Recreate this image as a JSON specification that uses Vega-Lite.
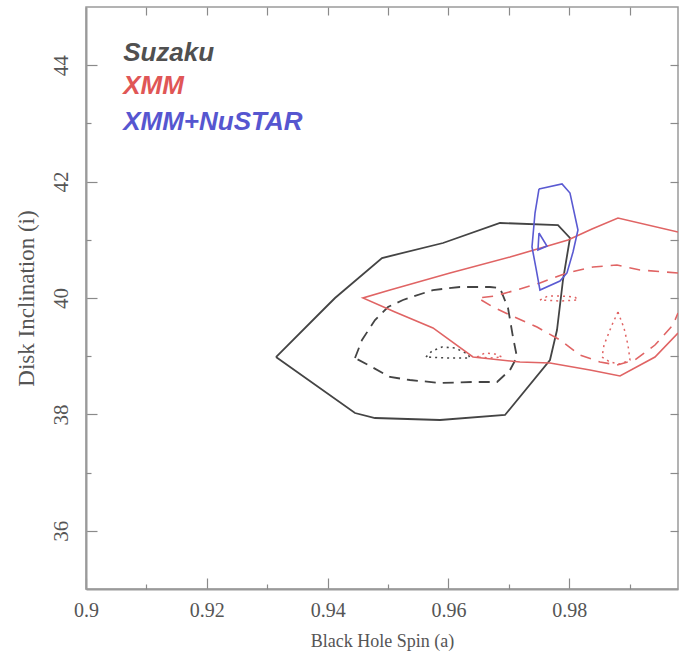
{
  "$schema": "https://vega.github.io/schema/vega-lite/v6.json",
  "width": 592,
  "height": 582,
  "autosize": "none",
  "padding": {"left": 86, "top": 7, "right": 5, "bottom": 66},
  "background": "white",
  "config": {
    "view": {"stroke": "#9a9a9a", "strokeWidth": 1.5},
    "axis": {
      "labelFont": "Liberation Serif",
      "titleFont": "Liberation Serif",
      "labelColor": "#555555",
      "titleColor": "#555555",
      "titleFontWeight": "normal",
      "tickColor": "#8a8a8a",
      "tickWidth": 1.2,
      "domain": false,
      "grid": false,
      "labelFlush": false,
      "labelOverlap": false
    }
  },
  "datasets": {
    "suzaku": [
      {"lvl": 1, "i": 0, "a": 0.93145, "inc": 38.986},
      {"lvl": 1, "i": 1, "a": 0.93923, "inc": 39.794},
      {"lvl": 1, "i": 2, "a": 0.94122, "inc": 40.0},
      {"lvl": 1, "i": 3, "a": 0.949, "inc": 40.687},
      {"lvl": 1, "i": 4, "a": 0.9591, "inc": 40.945},
      {"lvl": 1, "i": 5, "a": 0.96853, "inc": 41.289},
      {"lvl": 1, "i": 6, "a": 0.97813, "inc": 41.254},
      {"lvl": 1, "i": 7, "a": 0.98012, "inc": 41.031},
      {"lvl": 1, "i": 8, "a": 0.97896, "inc": 40.309},
      {"lvl": 1, "i": 9, "a": 0.97797, "inc": 39.45},
      {"lvl": 1, "i": 10, "a": 0.97681, "inc": 38.935},
      {"lvl": 1, "i": 11, "a": 0.96936, "inc": 37.99},
      {"lvl": 1, "i": 12, "a": 0.9586, "inc": 37.904},
      {"lvl": 1, "i": 13, "a": 0.94784, "inc": 37.938},
      {"lvl": 1, "i": 14, "a": 0.94453, "inc": 38.024},
      {"lvl": 1, "i": 15, "a": 0.93145, "inc": 38.986},
      {"lvl": 2, "i": 0, "a": 0.94453, "inc": 38.969},
      {"lvl": 2, "i": 1, "a": 0.94569, "inc": 39.278},
      {"lvl": 2, "i": 2, "a": 0.94784, "inc": 39.622},
      {"lvl": 2, "i": 3, "a": 0.94999, "inc": 39.845},
      {"lvl": 2, "i": 4, "a": 0.95247, "inc": 39.966},
      {"lvl": 2, "i": 5, "a": 0.95744, "inc": 40.137},
      {"lvl": 2, "i": 6, "a": 0.96191, "inc": 40.189},
      {"lvl": 2, "i": 7, "a": 0.96688, "inc": 40.189},
      {"lvl": 2, "i": 8, "a": 0.96853, "inc": 40.172},
      {"lvl": 2, "i": 9, "a": 0.96986, "inc": 39.828},
      {"lvl": 2, "i": 10, "a": 0.97068, "inc": 39.33},
      {"lvl": 2, "i": 11, "a": 0.97134, "inc": 38.986},
      {"lvl": 2, "i": 12, "a": 0.97019, "inc": 38.763},
      {"lvl": 2, "i": 13, "a": 0.96804, "inc": 38.557},
      {"lvl": 2, "i": 14, "a": 0.96406, "inc": 38.557},
      {"lvl": 2, "i": 15, "a": 0.9586, "inc": 38.54},
      {"lvl": 2, "i": 16, "a": 0.95363, "inc": 38.591},
      {"lvl": 2, "i": 17, "a": 0.95032, "inc": 38.643},
      {"lvl": 2, "i": 18, "a": 0.94734, "inc": 38.814},
      {"lvl": 2, "i": 19, "a": 0.94453, "inc": 38.969},
      {"lvl": 3, "i": 0, "a": 0.95628, "inc": 38.986},
      {"lvl": 3, "i": 1, "a": 0.95728, "inc": 39.089},
      {"lvl": 3, "i": 2, "a": 0.95893, "inc": 39.158},
      {"lvl": 3, "i": 3, "a": 0.96108, "inc": 39.141},
      {"lvl": 3, "i": 4, "a": 0.96323, "inc": 39.038},
      {"lvl": 3, "i": 5, "a": 0.96357, "inc": 38.969},
      {"lvl": 3, "i": 6, "a": 0.95992, "inc": 38.969},
      {"lvl": 3, "i": 7, "a": 0.95628, "inc": 38.986}
    ],
    "xmm": [
      {"lvl": 1, "c": "1", "i": 0, "a": 0.998, "inc": 41.134},
      {"lvl": 1, "c": "1", "i": 1, "a": 0.98806, "inc": 41.375},
      {"lvl": 1, "c": "1", "i": 2, "a": 0.98376, "inc": 41.186},
      {"lvl": 1, "c": "1", "i": 3, "a": 0.97979, "inc": 40.997},
      {"lvl": 1, "c": "1", "i": 4, "a": 0.97019, "inc": 40.704},
      {"lvl": 1, "c": "1", "i": 5, "a": 0.96026, "inc": 40.43},
      {"lvl": 1, "c": "1", "i": 6, "a": 0.95032, "inc": 40.137},
      {"lvl": 1, "c": "1", "i": 7, "a": 0.94585, "inc": 40.0},
      {"lvl": 1, "c": "1", "i": 8, "a": 0.95115, "inc": 39.759},
      {"lvl": 1, "c": "1", "i": 9, "a": 0.95744, "inc": 39.485},
      {"lvl": 1, "c": "1", "i": 10, "a": 0.96406, "inc": 38.986},
      {"lvl": 1, "c": "1", "i": 11, "a": 0.97184, "inc": 38.9},
      {"lvl": 1, "c": "1", "i": 12, "a": 0.97681, "inc": 38.883},
      {"lvl": 1, "c": "1", "i": 13, "a": 0.98343, "inc": 38.763},
      {"lvl": 1, "c": "1", "i": 14, "a": 0.9884, "inc": 38.66},
      {"lvl": 1, "c": "1", "i": 15, "a": 0.99419, "inc": 38.986},
      {"lvl": 1, "c": "1", "i": 16, "a": 0.998, "inc": 39.399},
      {"lvl": 2, "c": "2", "i": 0, "a": 0.998, "inc": 40.43},
      {"lvl": 2, "c": "2", "i": 1, "a": 0.99171, "inc": 40.481},
      {"lvl": 2, "c": "2", "i": 2, "a": 0.9879, "inc": 40.567},
      {"lvl": 2, "c": "2", "i": 3, "a": 0.98393, "inc": 40.533},
      {"lvl": 2, "c": "2", "i": 4, "a": 0.97962, "inc": 40.43},
      {"lvl": 2, "c": "2", "i": 5, "a": 0.97515, "inc": 40.258},
      {"lvl": 2, "c": "2", "i": 6, "a": 0.97184, "inc": 40.155},
      {"lvl": 2, "c": "2", "i": 7, "a": 0.9677, "inc": 40.034},
      {"lvl": 2, "c": "2", "i": 8, "a": 0.96489, "inc": 40.0},
      {"lvl": 2, "c": "2", "i": 9, "a": 0.96737, "inc": 39.845},
      {"lvl": 2, "c": "2", "i": 10, "a": 0.97019, "inc": 39.708},
      {"lvl": 2, "c": "2", "i": 11, "a": 0.97466, "inc": 39.502},
      {"lvl": 2, "c": "2", "i": 12, "a": 0.97846, "inc": 39.278},
      {"lvl": 2, "c": "2", "i": 13, "a": 0.98177, "inc": 39.021},
      {"lvl": 2, "c": "2", "i": 14, "a": 0.98509, "inc": 38.9},
      {"lvl": 2, "c": "2", "i": 15, "a": 0.9879, "inc": 38.849},
      {"lvl": 2, "c": "2", "i": 16, "a": 0.99088, "inc": 38.935},
      {"lvl": 2, "c": "2", "i": 17, "a": 0.99419, "inc": 39.192},
      {"lvl": 2, "c": "2", "i": 18, "a": 0.99717, "inc": 39.536},
      {"lvl": 2, "c": "2", "i": 19, "a": 0.998, "inc": 39.742},
      {"lvl": 3, "c": "3a", "i": 0, "a": 0.96472, "inc": 38.986},
      {"lvl": 3, "c": "3a", "i": 1, "a": 0.96605, "inc": 39.055},
      {"lvl": 3, "c": "3a", "i": 2, "a": 0.9677, "inc": 39.038},
      {"lvl": 3, "c": "3a", "i": 3, "a": 0.96886, "inc": 38.986},
      {"lvl": 3, "c": "3a", "i": 4, "a": 0.96688, "inc": 38.969},
      {"lvl": 3, "c": "3a", "i": 5, "a": 0.96472, "inc": 38.986},
      {"lvl": 3, "c": "3b", "i": 0, "a": 0.97515, "inc": 39.966},
      {"lvl": 3, "c": "3b", "i": 1, "a": 0.97648, "inc": 40.034},
      {"lvl": 3, "c": "3b", "i": 2, "a": 0.97846, "inc": 40.034},
      {"lvl": 3, "c": "3b", "i": 3, "a": 0.98095, "inc": 40.017},
      {"lvl": 3, "c": "3b", "i": 4, "a": 0.98144, "inc": 39.966},
      {"lvl": 3, "c": "3b", "i": 5, "a": 0.97846, "inc": 39.948},
      {"lvl": 3, "c": "3b", "i": 6, "a": 0.97515, "inc": 39.966},
      {"lvl": 3, "c": "3c", "i": 0, "a": 0.98806, "inc": 39.759},
      {"lvl": 3, "c": "3c", "i": 1, "a": 0.98707, "inc": 39.536},
      {"lvl": 3, "c": "3c", "i": 2, "a": 0.98575, "inc": 39.192},
      {"lvl": 3, "c": "3c", "i": 3, "a": 0.98542, "inc": 38.986},
      {"lvl": 3, "c": "3c", "i": 4, "a": 0.98674, "inc": 38.9},
      {"lvl": 3, "c": "3c", "i": 5, "a": 0.9884, "inc": 38.866},
      {"lvl": 3, "c": "3c", "i": 6, "a": 0.99005, "inc": 38.935},
      {"lvl": 3, "c": "3c", "i": 7, "a": 0.98972, "inc": 39.192},
      {"lvl": 3, "c": "3c", "i": 8, "a": 0.98906, "inc": 39.485},
      {"lvl": 3, "c": "3c", "i": 9, "a": 0.98806, "inc": 39.759}
    ],
    "nustar": [
      {"c": "outer", "i": 0, "a": 0.97499, "inc": 41.873},
      {"c": "outer", "i": 1, "a": 0.9788, "inc": 41.959},
      {"c": "outer", "i": 2, "a": 0.98012, "inc": 41.804},
      {"c": "outer", "i": 3, "a": 0.98144, "inc": 41.168},
      {"c": "outer", "i": 4, "a": 0.98062, "inc": 40.79},
      {"c": "outer", "i": 5, "a": 0.97962, "inc": 40.43},
      {"c": "outer", "i": 6, "a": 0.97846, "inc": 40.292},
      {"c": "outer", "i": 7, "a": 0.97515, "inc": 40.137},
      {"c": "outer", "i": 8, "a": 0.97449, "inc": 40.515},
      {"c": "outer", "i": 9, "a": 0.97383, "inc": 40.876},
      {"c": "outer", "i": 10, "a": 0.97433, "inc": 41.46},
      {"c": "outer", "i": 11, "a": 0.97499, "inc": 41.873},
      {"c": "inner", "i": 0, "a": 0.97499, "inc": 41.117},
      {"c": "inner", "i": 1, "a": 0.97631, "inc": 40.893},
      {"c": "inner", "i": 2, "a": 0.97482, "inc": 40.825},
      {"c": "inner", "i": 3, "a": 0.97499, "inc": 41.117}
    ],
    "labels": [
      {"label": "Suzaku", "a": 0.90615, "inc": 44.072},
      {"label": "XMM", "a": 0.90615, "inc": 43.505},
      {"label": "XMM+NuSTAR", "a": 0.90615, "inc": 42.887}
    ]
  },
  "resolve": {"axis": {"x": "independent", "y": "independent"}},
  "layer": [
    {
      "data": {"name": "suzaku"},
      "transform": [{"filter": "datum.lvl == 1"}],
      "mark": {"type": "line", "color": "#444444", "strokeWidth": 1.8, "clip": true},
      "encoding": {
        "x": {"field": "a", "type": "quantitative", "scale": {"domain": [0.9, 0.998], "nice": false, "zero": false},
          "axis": {"orient": "bottom", "values": [0.9, 0.92, 0.94, 0.96, 0.98], "format": "~g", "tickSize": -11, "labelPadding": 22, "labelFontSize": 20, "title": "Black Hole Spin (a)", "titleFontSize": 18, "titlePadding": 12, "domain": true, "domainColor": "#9a9a9a", "domainWidth": 2}},
        "y": {"field": "inc", "type": "quantitative", "scale": {"domain": [35, 45], "nice": false, "zero": false},
          "axis": {"orient": "left", "values": [36, 38, 40, 42, 44], "tickSize": -11, "labelAngle": -90, "labelAlign": "center", "labelBaseline": "bottom", "labelPadding": 26, "labelFontSize": 21, "title": "Disk Inclination (i)", "titleFontSize": 23, "titlePadding": 12, "domain": true, "domainColor": "#9a9a9a", "domainWidth": 2}},
        "order": {"field": "i", "type": "quantitative"}
      }
    },
    {
      "data": {"name": "suzaku"},
      "transform": [{"filter": "datum.lvl == 2"}],
      "mark": {"type": "line", "color": "#444444", "strokeWidth": 1.8, "strokeDash": [11, 7], "clip": true},
      "encoding": {
        "x": {"field": "a", "type": "quantitative", "scale": {"domain": [0.9, 0.998], "nice": false, "zero": false},
          "axis": {"orient": "bottom", "values": [0.91, 0.93, 0.95, 0.97, 0.99], "tickSize": -5, "labels": false, "title": null}},
        "y": {"field": "inc", "type": "quantitative", "scale": {"domain": [35, 45], "nice": false, "zero": false},
          "axis": {"orient": "left", "values": [37, 39, 41, 43], "tickSize": -5, "labels": false, "title": null}},
        "order": {"field": "i", "type": "quantitative"}
      }
    },
    {
      "data": {"name": "suzaku"},
      "transform": [{"filter": "datum.lvl == 3"}],
      "mark": {"type": "line", "color": "#444444", "strokeWidth": 1.6, "strokeDash": [2, 4], "clip": true},
      "encoding": {
        "x": {"field": "a", "type": "quantitative", "scale": {"domain": [0.9, 0.998], "nice": false, "zero": false},
          "axis": {"orient": "top", "values": [0.91, 0.92, 0.93, 0.94, 0.95, 0.96, 0.97, 0.98, 0.99], "tickSize": -8, "labels": false, "title": null}},
        "y": {"field": "inc", "type": "quantitative", "scale": {"domain": [35, 45], "nice": false, "zero": false},
          "axis": {"orient": "right", "values": [36, 37, 38, 39, 40, 41, 42, 43, 44], "tickSize": -8, "labels": false, "title": null}},
        "order": {"field": "i", "type": "quantitative"}
      }
    },
    {
      "data": {"name": "xmm"},
      "transform": [{"filter": "datum.lvl == 1"}],
      "mark": {"type": "line", "color": "#e06464", "strokeWidth": 1.6, "clip": true},
      "encoding": {
        "x": {"field": "a", "type": "quantitative", "scale": {"domain": [0.9, 0.998], "nice": false, "zero": false}, "axis": null},
        "y": {"field": "inc", "type": "quantitative", "scale": {"domain": [35, 45], "nice": false, "zero": false}, "axis": null},
        "order": {"field": "i", "type": "quantitative"}
      }
    },
    {
      "data": {"name": "xmm"},
      "transform": [{"filter": "datum.lvl == 2"}],
      "mark": {"type": "line", "color": "#e06464", "strokeWidth": 1.6, "strokeDash": [11, 8], "clip": true},
      "encoding": {
        "x": {"field": "a", "type": "quantitative", "scale": {"domain": [0.9, 0.998], "nice": false, "zero": false}, "axis": null},
        "y": {"field": "inc", "type": "quantitative", "scale": {"domain": [35, 45], "nice": false, "zero": false}, "axis": null},
        "order": {"field": "i", "type": "quantitative"}
      }
    },
    {
      "data": {"name": "xmm"},
      "transform": [{"filter": "datum.lvl == 3"}],
      "mark": {"type": "line", "color": "#e06464", "strokeWidth": 1.5, "strokeDash": [2, 4], "clip": true},
      "encoding": {
        "x": {"field": "a", "type": "quantitative", "scale": {"domain": [0.9, 0.998], "nice": false, "zero": false}, "axis": null},
        "y": {"field": "inc", "type": "quantitative", "scale": {"domain": [35, 45], "nice": false, "zero": false}, "axis": null},
        "detail": {"field": "c", "type": "nominal"},
        "order": {"field": "i", "type": "quantitative"}
      }
    },
    {
      "data": {"name": "nustar"},
      "mark": {"type": "line", "color": "#5a5ad2", "strokeWidth": 1.6, "clip": true},
      "encoding": {
        "x": {"field": "a", "type": "quantitative", "scale": {"domain": [0.9, 0.998], "nice": false, "zero": false}, "axis": null},
        "y": {"field": "inc", "type": "quantitative", "scale": {"domain": [35, 45], "nice": false, "zero": false}, "axis": null},
        "detail": {"field": "c", "type": "nominal"},
        "order": {"field": "i", "type": "quantitative"}
      }
    },
    {
      "data": {"name": "labels"},
      "mark": {"type": "text", "align": "left", "baseline": "alphabetic", "font": "Liberation Sans", "fontStyle": "italic", "fontWeight": "bold", "fontSize": 26},
      "encoding": {
        "x": {"field": "a", "type": "quantitative", "scale": {"domain": [0.9, 0.998], "nice": false, "zero": false}, "axis": null},
        "y": {"field": "inc", "type": "quantitative", "scale": {"domain": [35, 45], "nice": false, "zero": false}, "axis": null},
        "text": {"field": "label"},
        "color": {"field": "label", "type": "nominal", "scale": {"domain": ["Suzaku", "XMM", "XMM+NuSTAR"], "range": ["#505050", "#e05656", "#5656d0"]}, "legend": null}
      }
    }
  ]
}
